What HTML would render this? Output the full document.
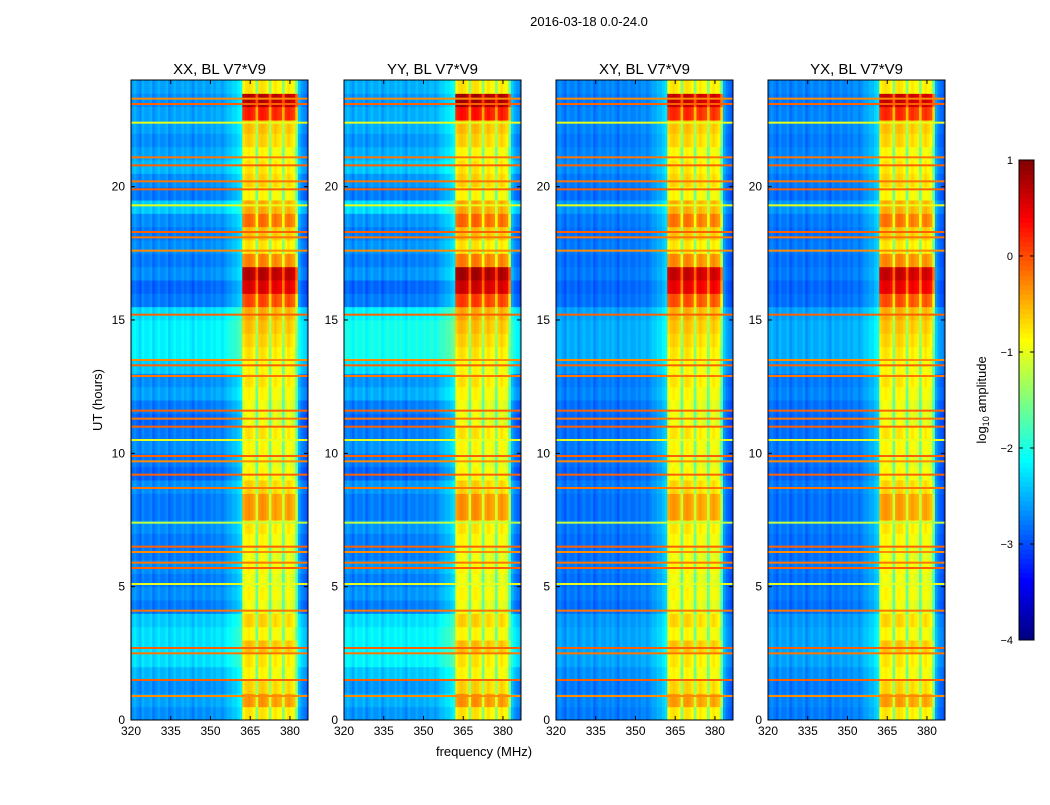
<!DOCTYPE html>
<html><head><meta charset="utf-8">
<style>
body{margin:0;background:#fff;font-family:"Liberation Sans",sans-serif;}
svg text{font-family:"Liberation Sans",sans-serif;}
</style></head>
<body>
<svg id="fig" width="1050" height="800" xmlns="http://www.w3.org/2000/svg">
<rect width="1050" height="800" fill="#fff"/>
<text x="589" y="26" font-size="13" text-anchor="middle">2016-03-18 0.0-24.0</text>
<text transform="translate(102,400) rotate(-90)" font-size="13" text-anchor="middle">UT (hours)</text>
<text x="484" y="756" font-size="13" text-anchor="middle">frequency (MHz)</text>
<g id="panels"></g>
<g id="cbar"></g>
<text transform="translate(986,400) rotate(-90)" font-size="13" text-anchor="middle">log<tspan font-size="9" dy="3">10</tspan><tspan dy="-3"> amplitude</tspan></text>
</svg>
<script>
// frequency bins, 1 MHz from 320 to 386
const freqStart = 320;
const colLevel = [
-2.9,-2.8,-2.9,-3.0,-2.8,-2.9,-2.9,-2.8,-3.0,-2.9,-2.8,-2.9,-2.9,-2.8,-3.0,-2.9,-2.8,-2.9,-2.9,-2.8,
-2.9,-2.8,-2.9,-3.0,-2.8,-2.9,-2.9,-2.8,-2.9,-2.9,-2.8,-2.9,-2.8,-2.8,-2.9,-2.8,-2.7,-2.7,-2.6,-2.6,-2.5,-2.4,
-1.05,-0.95,-0.9,-0.95,-1.05,-1.7,-0.95,-0.9,-0.95,-1.05,-1.7,-1.05,-0.95,-1.05,-1.1,-1.7,-1.05,-0.95,-1.05,-1.15,-1.8,
-2.7,-2.9,-3.0,-3.1];
const isBand = [
0,0,0,0,0,0,0,0,0,0,0,0,0,0,0,0,0,0,0,0,0,0,0,0,0,0,0,0,0,0,0,0,0,0,0,0,0,0,0,0,0,0,
1,1,1,1,1,1,1,1,1,1,1,1,1,1,1,1,1,1,1,1,1,
0,0,0,0];
// half-hour time rows, 0h first
const rowBand = [0.2,0.6,0.3,0.1,0.2,0.4,0.1,0.3,0,0.1,0,0.1,0,0.1,0.2,0.6,0.6,0.3,0.1,0,0.1,0.2,0,0,
0.1,0.2,0.1,0.2,0.3,0.4,0.5,1.0,1.5,1.7,0.7,0.2,0.4,0.8,0.5,0.1,0.3,0.2,0.1,0.3,0.4,1.2,1.7,0.2];
const rowBg = [0.2,0.3,0.2,0.4,0.6,0.6,0.6,0.5,0.1,0.2,0.1,0.2,0.1,0.1,0.2,0.1,0.1,0.2,0,0.1,0.2,0.1,0,0.1,
0.3,0.2,0.5,0.7,0.7,0.7,0.6,0.1,0,0.2,0.1,0.2,0.1,0.2,0.5,0.1,0.2,0.4,0.3,0.2,0.3,0.3,0.2,0.3];
// narrow RFI lines: hour and level
const rfiHours = [0.9,1.5,2.5,2.7,4.1,5.1,5.7,5.9,6.3,6.5,7.4,8.7,9.2,9.7,9.9,10.5,11.0,11.3,11.6,12.9,13.3,13.5,15.2,17.6,18.1,18.3,19.3,19.9,20.2,20.8,21.1,22.4,23.1,23.3];
const rfiLevel = [-0.3,-0.1,-0.2,-0.1,-0.2,-1.0,-0.1,-0.2,-0.3,-0.1,-1.2,-0.2,-0.1,-0.3,-0.1,-1.0,-0.1,-0.2,-0.1,-0.2,-0.1,-0.3,-0.1,-0.3,-0.2,-0.1,-1.0,-0.1,-0.2,-0.1,-0.2,-1.0,-0.1,-0.3];
const panelNames = ["XX, BL V7*V9","YY, BL V7*V9","XY, BL V7*V9","YX, BL V7*V9"];
const panelBgScale = [1.0,1.2,0.5,0.5];
const panelBandScale = [1.0,1.05,0.95,0.95];
const xTicks = [320,335,350,365,380];
const yTicks = [0,5,10,15,20];
const cbTicks = [1,0,-1,-2,-3,-4];
const cbLabels = ["1","0","\u22121","\u22122","\u22123","\u22124"];

{
const panelLeft = [131,344,556,768];
const pw = 177, plotTop = 80, plotBottom = 720;
const fMin = 320, fMax = 386.8, tMax = 24;
const NS = "http://www.w3.org/2000/svg";
function el(tag, attrs, parent){const e=document.createElementNS(NS,tag);for(const k in attrs)e.setAttribute(k,attrs[k]);parent.appendChild(e);return e;}
function jet(v){let t=(v+4)/5;t=Math.max(0,Math.min(1,t));
 const r=Math.max(0,Math.min(1,Math.min(4*t-1.5,-4*t+4.5)));
 const g=Math.max(0,Math.min(1,Math.min(4*t-0.5,-4*t+3.5)));
 const b=Math.max(0,Math.min(1,Math.min(4*t+0.5,-4*t+2.5)));
 return `rgb(${Math.round(r*255)},${Math.round(g*255)},${Math.round(b*255)})`;}
const panels = document.getElementById('panels');
panelLeft.forEach((x0,p)=>{
 const g = el('g',{},panels);
 
 
 const xs = f=>x0+(f-fMin)/(fMax-fMin)*pw;
 const ys = h=>plotBottom-h/tMax*(plotBottom-plotTop);
 for(let r=0;r<rowBand.length;r++){
  for(let c=0;c<colLevel.length;c++){
   const f0=freqStart+c, f1=Math.min(f0+1,fMax);
   const v = colLevel[c] + (isBand[c] ? rowBand[r]*panelBandScale[p] : rowBg[r]*panelBgScale[p]);
   const cell = el('rect',{x:xs(f0),y:ys(r/2+0.5),width:xs(f1)-xs(f0)+0.5,height:ys(r/2)-ys(r/2+0.5)+0.5,fill:jet(v)},g);
   
   
  }
 }
 rfiHours.forEach((h,i)=>{
  const ln = el('rect',{x:x0,y:ys(h)-1,width:pw,height:2,fill:jet(rfiLevel[i])},g);
  
  
 });
 const frame = el('rect',{x:x0,y:plotTop,width:pw,height:plotBottom-plotTop,fill:'none',stroke:'#000','stroke-width':1},g);
 
 
 const ttl = el('text',{x:x0+pw/2,y:plotTop-6,'font-size':15,'text-anchor':'middle'},g);
 ttl.textContent = panelNames[p];
 
 
 xTicks.forEach(f=>{
  el('line',{x1:xs(f),x2:xs(f),y1:plotBottom,y2:plotBottom-4,stroke:'#000'},g);
  el('line',{x1:xs(f),x2:xs(f),y1:plotTop,y2:plotTop+4,stroke:'#000'},g);
  const t = el('text',{x:xs(f),y:plotBottom+15,'font-size':12,'text-anchor':'middle'},g);
  t.textContent=f;
  
  
 });
 yTicks.forEach(h=>{
  el('line',{x1:x0,x2:x0+4,y1:ys(h),y2:ys(h),stroke:'#000'},g);
  el('line',{x1:x0+pw,x2:x0+pw-4,y1:ys(h),y2:ys(h),stroke:'#000'},g);
  const t = el('text',{x:x0-6,y:ys(h)+4,'font-size':12,'text-anchor':'end'},g);
  t.textContent=h;
  
  
 });
});
// colorbar
const cb = document.getElementById('cbar');


const cbx=1019, cbw=15, cbTop=160, cbBot=640;
const cy = v=>cbBot-(v+4)/5*(cbBot-cbTop);
for(let i=0;i<100;i++){
 const v0=-4+i*0.05;
 el('rect',{x:cbx,y:cy(v0+0.05),width:cbw,height:cy(v0)-cy(v0+0.05)+0.5,fill:jet(v0+0.025)},cb);
}
el('rect',{x:cbx,y:cbTop,width:cbw,height:cbBot-cbTop,fill:'none',stroke:'#000'},cb);
cbTicks.forEach((v,i)=>{
 el('line',{x1:cbx,x2:cbx+4,y1:cy(v),y2:cy(v),stroke:'#000'},cb);
 el('line',{x1:cbx+cbw,x2:cbx+cbw-4,y1:cy(v),y2:cy(v),stroke:'#000'},cb);
 const t = el('text',{x:cbx-6,y:cy(v)+4,'font-size':11,'text-anchor':'end'},cb);
 t.textContent=cbLabels[i];
 
 
});
}
</script>
</body></html>
